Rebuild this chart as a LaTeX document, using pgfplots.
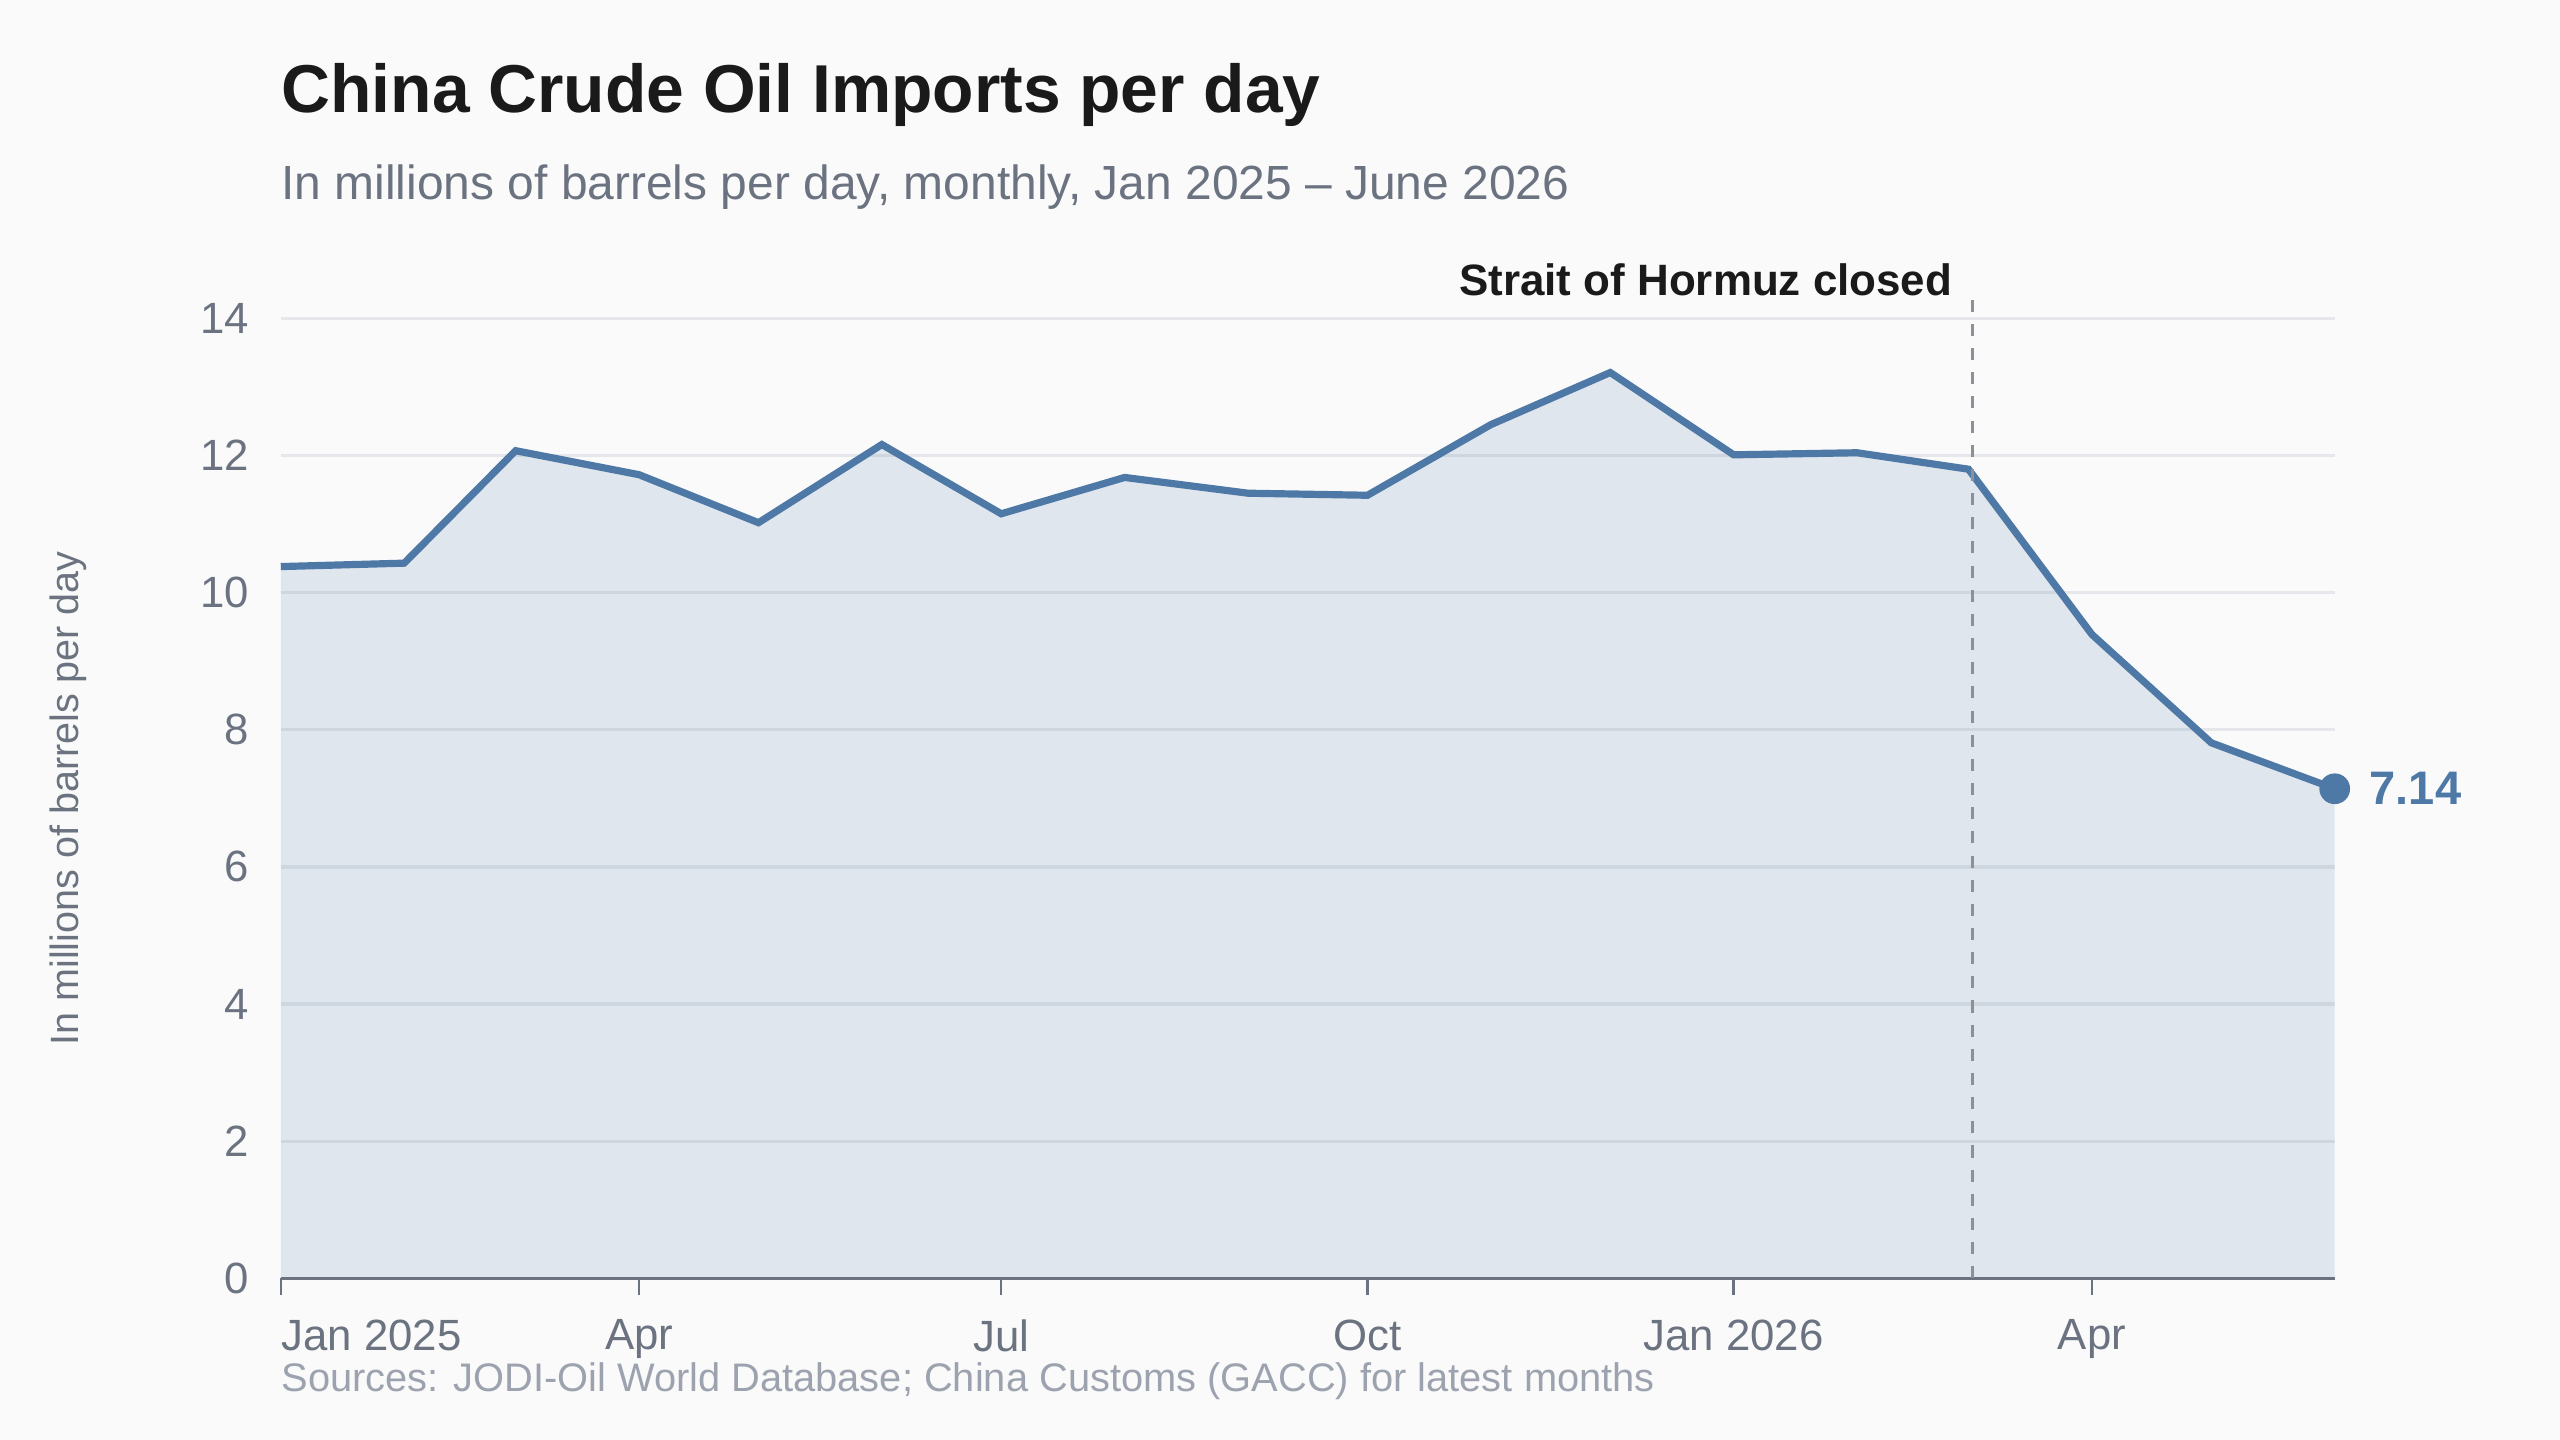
\documentclass[border=0pt]{standalone}
\usepackage{fontspec}
\setmainfont{Liberation Sans}
\usepackage{pgfplots}
\usepackage{pgfplotstable}
\pgfplotsset{compat=1.18}
\definecolor{bg}{HTML}{FAFAFA}
\definecolor{titlec}{HTML}{1A1A1A}
\definecolor{subc}{HTML}{6B7280}
\definecolor{gridc}{HTML}{E5E7EB}
\definecolor{linec}{HTML}{4E79A7}
\definecolor{srcc}{HTML}{9CA3AF}
\definecolor{dashc}{HTML}{8B9099}
% x = days since 1 Jan 2025 (first of each month)
\pgfplotstableread{
day  value
0    10.38
31   10.43
59   12.07
90   11.72
120  11.02
151  12.16
181  11.15
212  11.68
243  11.45
273  11.42
304  12.45
334  13.21
365  12.01
396  12.04
424  11.80
455  9.39
485  7.81
516  7.14
}\oildata
\begin{document}
\begin{tikzpicture}
\fill[bg] (-86pt,-49.5pt) rectangle (698pt,391.5pt);
\node[anchor=base west, inner sep=0pt, text=titlec, font=\fontsize{20.75}{24}\selectfont\bfseries] at (0,357pt) {China Crude Oil Imports per day};
\node[anchor=base west, inner sep=0pt, text=subc, font=\fontsize{14.68}{17}\selectfont] at (0,330.25pt) {In millions of barrels per day, monthly, Jan 2025 – June 2026};
\node[anchor=base west, inner sep=0pt, text=srcc, font=\fontsize{12.2}{14}\selectfont] at (0,-34.7pt) {Sources: JODI-Oil World Database; China Customs (GACC) for latest months};
\begin{axis}[
  at={(0,0)}, anchor=south west,
  scale only axis, width=629pt, height=294pt,
  xmin=0, xmax=516, ymin=0, ymax=14,
  clip=false,
  axis x line*=bottom, axis y line*=left,
  x axis line style={draw=none}, y axis line style={draw=none},
  ytick={0,2,...,14},
  ymajorgrids, grid style={gridc, line width=1pt},
  xtick={90,181,273,365,455},
  xticklabels={Apr,Jul,Oct,Jan 2026,Apr},
  extra x ticks={0},
  extra x tick labels={Jan 2025},
  extra x tick style={grid=none, xticklabel style={anchor=north west, xshift=0pt}},
  tick align=outside, major tick length=5pt,
  xtick style={draw=subc, line width=0.75pt},
  ytick style={draw=none},
  tick label style={font=\fontsize{13.4}{16}\selectfont, text=subc},
  xticklabel style={anchor=north, inner sep=0pt, yshift=-7.5pt},
  yticklabel style={anchor=east, inner sep=0pt, xshift=-4.5pt},
  /pgf/number format/assume math mode=true,
  every axis y label/.style={at={(axis description cs:-0.1033,0.5)}, rotate=90, anchor=center, font=\fontsize{12.1}{14}\selectfont, text=subc},
  ylabel={In millions of barrels per day},
]
\addplot[draw=none, fill=linec, fill opacity=0.15] table[x=day, y=value] {\oildata} \closedcycle;
\addplot[linec, line width=2.2pt] table[x=day, y=value] {\oildata};
\draw[subc, line width=1.1pt] (axis cs:0,0) -- (axis cs:516,0);
\draw[dashc, line width=0.9pt, dash pattern=on 3.7pt off 3.7pt] (axis cs:425,0) -- (axis cs:425,14.36);
\addplot[only marks, mark=*, mark size=4.5pt, linec] coordinates {(516,7.14)};
\node[anchor=base east, inner sep=0pt, text=titlec, font=\fontsize{13.45}{16}\selectfont\bfseries, xshift=-6pt, yshift=7.1pt] at (axis cs:425,14) {Strait of Hormuz closed};
\node[anchor=west, inner sep=0pt, text=linec, font=\fontsize{14.4}{17}\selectfont\bfseries, xshift=10.5pt] at (axis cs:516,7.14) {7.14};
\end{axis}
\end{tikzpicture}
\end{document}
